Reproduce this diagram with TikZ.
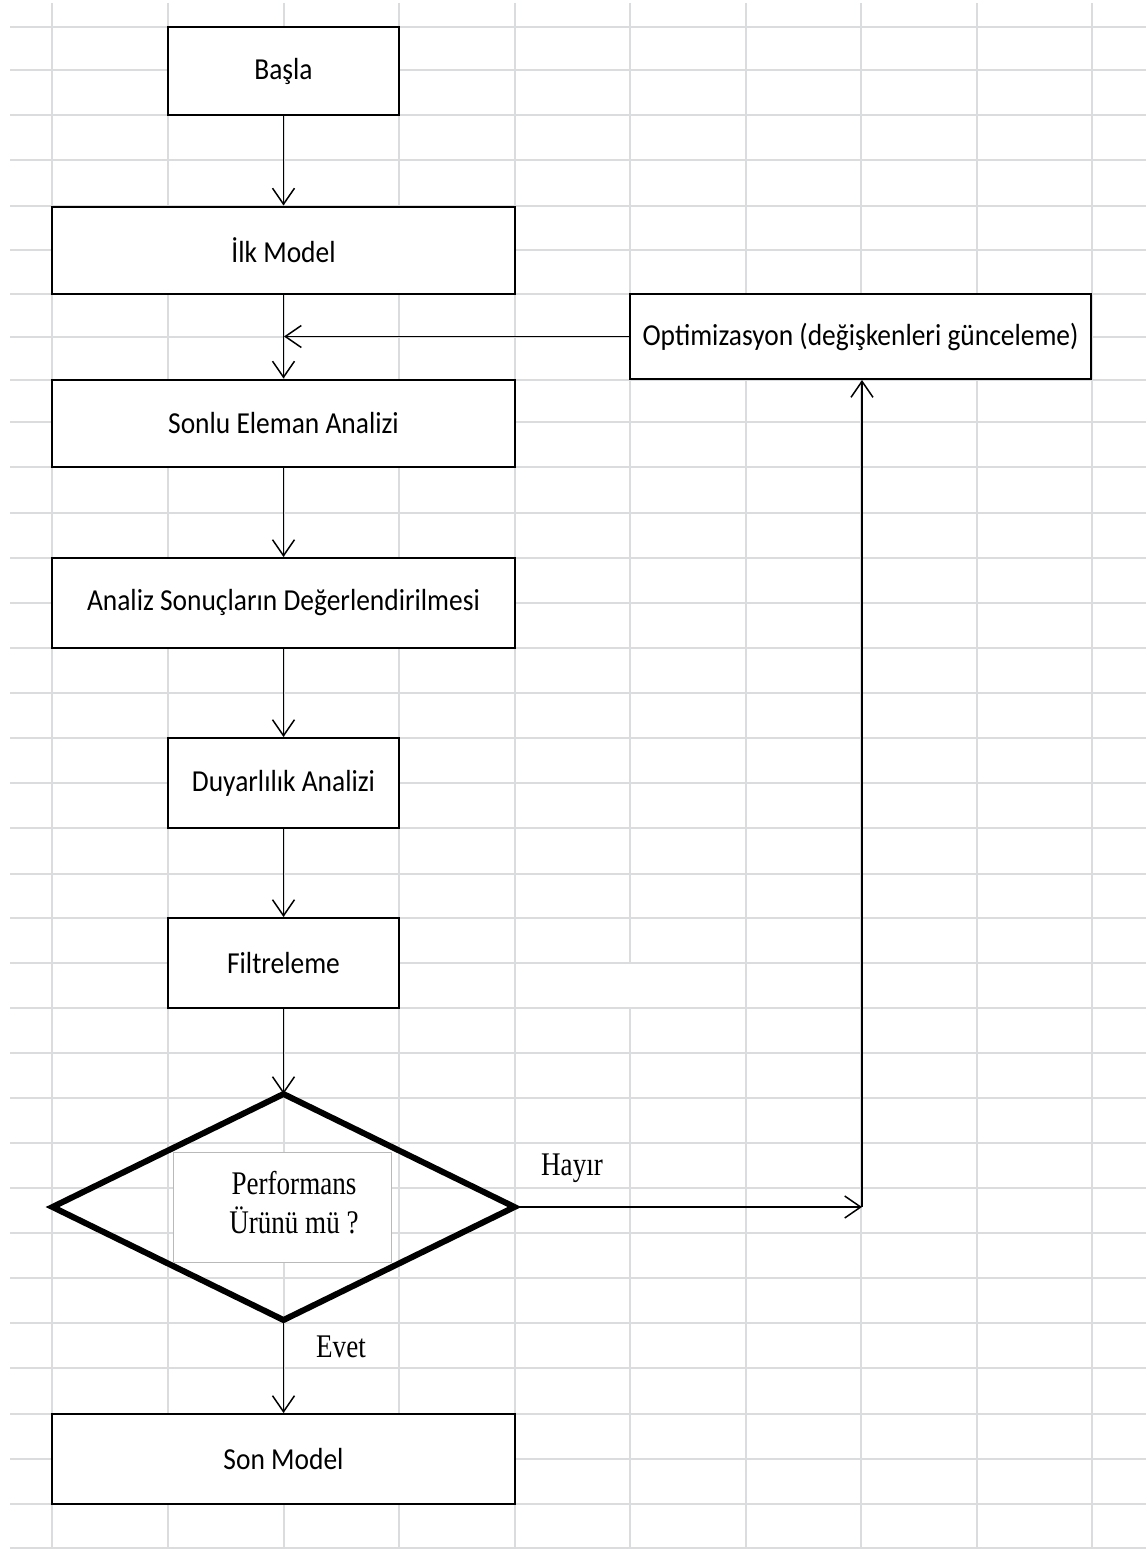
\documentclass[tikz,border=0pt]{standalone}
\usepackage{fontspec}
\usetikzlibrary{arrows.meta, shapes.geometric}
\newfontfamily\kutufont[FakeStretch=0.9]{Carlito}
\newfontfamily\kararfont[FakeStretch=0.82]{Liberation Serif}
\definecolor{izgara}{RGB}{218,220,221}
\tikzset{
	kutu/.style={draw, line width=2pt, fill=white, inner sep=0pt, font={\kutufont\fontsize{30.5}{36}\selectfont}},
	genis/.style={kutu, minimum width=463pt},
	dar/.style={kutu, minimum width=231pt},
	ok/.style={line width=1.5pt, -{Straight Barb[length=16pt,width=22pt,line width=1.5pt]}},
	etiket/.style={inner sep=0pt, font={\kararfont\fontsize{33}{39}\selectfont}}
}

\begin{document}
\begin{tikzpicture}[x=1pt, y=-1pt]

	\useasboundingbox (0,0) rectangle (1146,1549);

	% izgara
	\foreach \x in {52,168,284,399,515,746,861,977,1092}
		\draw[izgara, line width=2pt] (\x,3) -- (\x,1549);
	\draw[izgara, line width=2pt] (630,3) -- (630,963) (630,1008) -- (630,1549);
	\foreach \y in {27,70,115,160,206,250,294,337,380,422,467,513,558,603,648,693,738,783,828,874,918,963,1008,1053,1098,1143,1188,1233,1278,1323,1368,1414,1459,1504,1548}
		\draw[izgara, line width=2pt] (10,\y) -- (1146,\y);

	\node[dar, minimum height=88pt] (basla) at (283.5,71) {Başla};
	\node[genis, minimum height=87pt] (ilk) at (283.5,250) {İlk Model};
	\node[kutu, minimum width=461pt, minimum height=85pt] (optim) at (860.5,336.5) {Optimizasyon (değişkenleri günceleme)};
	\node[genis, minimum height=87pt] (sonlu) at (283.5,423) {Sonlu Eleman Analizi};
	\node[genis, minimum height=90pt] (analiz) at (283.5,603) {Analiz Sonuçların Değerlendirilmesi};
	\node[dar, minimum height=90pt] (duyar) at (283.5,783) {Duyarlılık Analizi};
	\node[dar, minimum height=90pt] (filtre) at (283.5,963) {Filtreleme};
	\node[genis, minimum height=90pt] (son) at (283.5,1459) {Son Model};

	% karar
	\node[diamond, draw, line width=6pt, outer sep=0pt, inner sep=0pt, minimum width=462pt, minimum height=226pt] (karar) at (283.5,1207) {};
	\node[draw=gray!55, line width=1pt, fill=white, minimum width=218pt, minimum height=110pt] (kutucuk) at (282,1207) {};
	\node[etiket, align=center] (soru) at (294,1203) {Performans\\Ürünü mü ?};

	\coordinate (birles) at (284,336.5);
	\coordinate (donus) at (862,1207);

	\draw[ok] (basla) -- (ilk);
	\draw[ok] (ilk) -- (sonlu);
	\draw[ok] (optim.west) -- (birles);
	\draw[ok] (sonlu) -- (analiz);
	\draw[ok] (analiz) -- (duyar);
	\draw[ok] (duyar) -- (filtre);
	\draw[ok] (filtre) -- (karar.north);
	\draw[ok] (karar.south) -- (son);
	\draw[ok] (karar.east) -- (donus);
	\draw[ok] (donus) -- (optim.south -| donus);

	\node[etiket] (hayir) at (572,1168) {Hayır};
	\node[etiket] (evet) at (341,1347) {Evet};

\end{tikzpicture}
\end{document}
